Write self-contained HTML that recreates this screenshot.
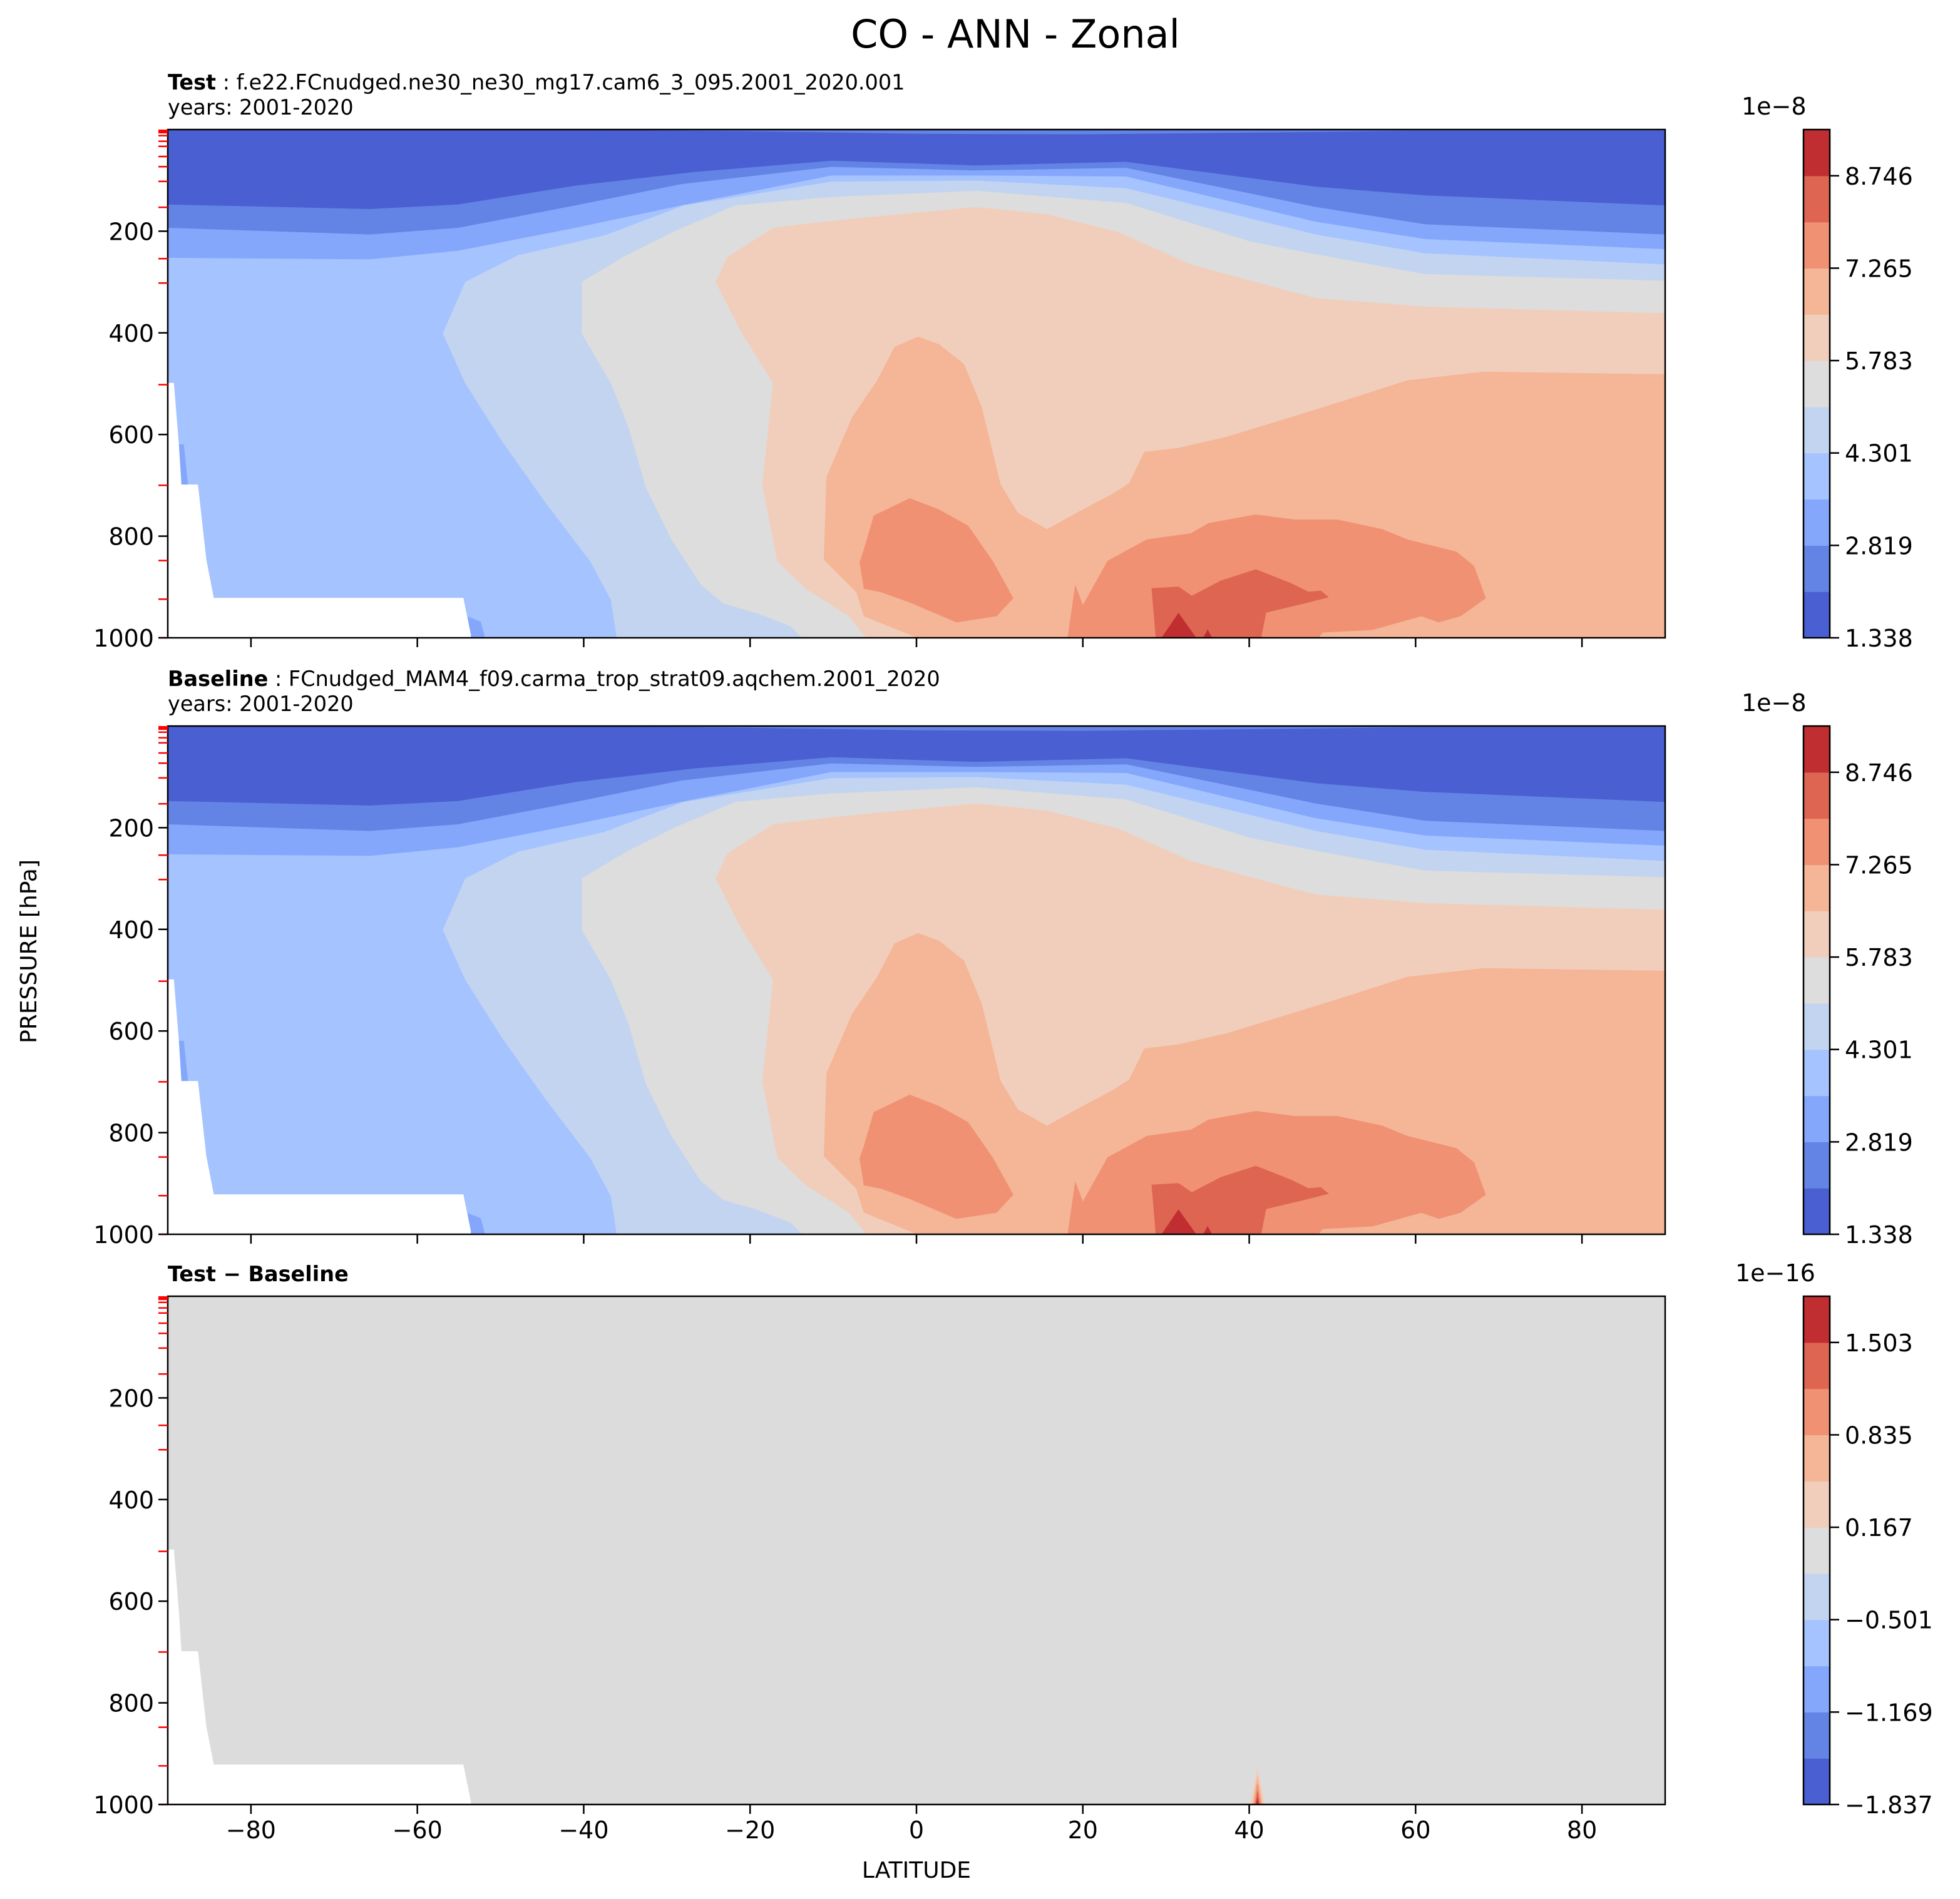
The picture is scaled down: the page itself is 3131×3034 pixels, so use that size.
<!DOCTYPE html>
<html><head><meta charset="utf-8"><style>
html,body{margin:0;padding:0;background:#fff}
svg{display:block}
text{font-family:"DejaVu Sans","Liberation Sans",sans-serif;fill:#000}
</style></head><body>
<svg id="fig" xmlns="http://www.w3.org/2000/svg" width="3131" height="3034" viewBox="0 0 3131 3034">
<rect x="0" y="0" width="3131" height="3034" fill="#fff"/>
<text x="1622" y="76" font-size="62" text-anchor="middle">CO - ANN - Zonal</text>
<text x="268" y="143" font-size="33.5"><tspan font-weight="bold">Test</tspan> : f.e22.FCnudged.ne30_ne30_mg17.cam6_3_095.2001_2020.001</text>
<text x="268" y="183" font-size="33.5">years: 2001-2020</text>
<text x="268" y="1096" font-size="33.5"><tspan font-weight="bold">Baseline</tspan> : FCnudged_MAM4_f09.carma_trop_strat09.aqchem.2001_2020</text>
<text x="268" y="1136" font-size="33.5">years: 2001-2020</text>
<text x="268" y="2047" font-size="33.5" font-weight="bold">Test − Baseline</text>
<text x="1464" y="3000" font-size="36" text-anchor="middle">LATITUDE</text>
<text x="0" y="0" font-size="36" text-anchor="middle" transform="translate(58,1520) rotate(-90)">PRESSURE [hPa]</text>
<g id="plots"></g>
</svg>
<script>
// ---- data ----
const palette = ['#4a5fd1','#6384e5','#84a7fc','#a5c3fe','#c3d4f1','#dcdddc','#f1cebc','#f5b597','#f09173','#de6551','#c12e32'];
const xTicks = [-80,-60,-40,-20,0,20,40,60,80];
const yTicks = [200,400,600,800,1000];
const levelTicks = [6,12,23,33,53,73,102,153,254,302,502,700,848,924,1000];
const cbTicksCO = ['1.338','2.819','4.301','5.783','7.265','8.746'];
const cbTicksDiff = ['−1.837','−1.169','−0.501','0.167','0.835','1.503'];
const topDark = [[-90,1],[-40,1],[-20,4],[0,9],[20,10],[45,6],[60,3],[90,3]];
const b2top = [[-90,148],[-65.7,157],[-55.1,148],[-41,111],[-26.7,84],[-10.2,62],[7.1,71],[25.2,64],[48,113],[61.1,130],[90,150]];
const b3top = [[-90,194],[-65.7,207],[-55.1,194],[-41,150],[-28.3,108],[-10.2,74],[7.1,81],[25.2,76],[48,153],[61.1,187],[90,207]];
const b4top = [[-90,253],[-65.7,256],[-55.1,239],[-41,194],[-28.3,150],[-10.2,91],[7.1,91],[25.2,93],[48,182],[61.1,216],[90,236]];
const b5edge = [[-36,1000],[-36.7,925],[-39.2,849],[-44.6,733],[-49.7,615],[-54.2,499],[-56.9,401],[-54.2,300],[-47.9,248],[-37.5,209],[-28,150],[-10.2,103],[7.1,101],[25.2,116],[48,207],[61.1,244],[90,266]];
const b6edge = [[-13.7,1000],[-15.1,977],[-19,952],[-23.2,932],[-25.9,895],[-29.4,807],[-32.5,704],[-34.6,585],[-36.7,499],[-40.2,401],[-40.2,300],[-34.9,248],[-28.9,199],[-21.8,150],[-10.2,133],[7.1,121],[25.2,145],[40.2,221],[48,246],[61.1,285],[90,298]];
const b7edge = [[-6,1000],[-8.1,957],[-13.3,903],[-16.7,849],[-18.5,699],[-17.2,499],[-21.1,396],[-24.1,300],[-22.7,251],[-17.2,194],[-10.2,180],[7.1,153],[15.7,167],[24.2,202],[33,266],[40.2,298],[48,332],[61.1,349],[90,362]];
const b8edge = [[0.2,1000],[-6.3,957],[-7.2,910],[-11.1,846],[-10.8,684],[-7.7,566],[-4.7,494],[-2.6,428],[0.2,408],[2.7,423],[5.7,462],[7.8,546],[10.1,699],[12.2,755],[15.7,787],[20,748],[23.5,718],[25.6,696],[27.4,635],[31.5,627],[37.3,605],[44.1,571],[51.4,534],[59,494],[68.2,477],[90,482]];
const b9blobA = [[-0.8,726],[-5.1,760],[-6.3,827],[-6.8,851],[-6.3,903],[-4.2,910],[-0.8,930],[4.8,969],[9.6,957],[11.6,922],[9.2,851],[6.2,780],[2.7,748]];
const b9blobB = [[18.2,1000],[19.1,898],[20,937],[23,849],[27.7,807],[33,795],[35.1,775],[40.8,758],[45.5,768],[50.6,768],[56,787],[59,807],[64.9,831],[67,859],[68.4,922],[65.4,957],[62.8,969],[60.7,957],[58.1,969],[54.8,984],[48.8,989],[48.3,1000]];
const b10blob = [[28.8,1000],[28.3,903],[31.5,900],[33.1,918],[36.6,888],[40.8,866],[45,893],[47.1,910],[48.6,908],[49.5,920],[47.1,930],[42,950],[41.4,1000]];
const b11blobA = [[29.5,1000],[31.5,952],[33.6,1000]];
const b11blobB = [[34.5,1000],[35,985],[35.5,1000]];
const maskPts = [[-90,499],[-89.3,499],[-88.7,620],[-88.4,699],[-86.4,699],[-85.4,846],[-84.5,922],[-54.5,922],[-53.6,994],[-53.6,1000],[-90,1000]];
const sliverA = [[-88.7,620],[-88.1,620],[-87.6,699],[-88.4,699]];
const sliverB = [[-53.9,959],[-52.4,969],[-51.9,1000],[-53.6,1000]];
const spikeLat = 41;
const spikeHalfWidths = [0.85,0.6,0.4,0.25,0.12];
const spikeTips = [930,945,960,975,988];

// ---- layout ----
const X0=268, X1=2660, PH=812;
const panelTops=[207,1160,2071];
const CBX=2881, CBW=42;
const NS='http://www.w3.org/2000/svg';
const root=document.getElementById('plots');
function X(lat){return X0+(lat+90)/180*(X1-X0);}
function mk(tag,attrs,parent){const e=document.createElementNS(NS,tag);for(const k in attrs)e.setAttribute(k,attrs[k]);(parent||root).appendChild(e);return e;}
function poly(pts,top,color,g,name,closeBottom){
  let arr=pts.map(q=>[X(q[0]),top+q[1]/1000*PH]);
  if(closeBottom==='full'){arr.push([X(90),top+PH]);arr.push([X(-90),top+PH]);}
  else if(closeBottom==='right'){arr.push([X(90),top+PH]);}
  const e=mk('polygon',{points:arr.map(a=>a[0].toFixed(1)+','+a[1].toFixed(1)).join(' '),fill:color,stroke:color,'stroke-width':1},g);
  
  
  return e;
}
function drawPanel(i,kind){
  const top=panelTops[i];
  const g=mk('g',{});
  
  
  const clip=mk('clipPath',{id:'clip'+i},g);
  mk('rect',{x:X0,y:top,width:X1-X0,height:PH},clip);
  const cg=mk('g',{'clip-path':'url(#clip'+i+')'},g);
  if(kind==='co'){
    const bg=mk('rect',{x:X0,y:top,width:X1-X0,height:PH,fill:palette[1]},cg);
    
    
    poly(topDark,top,palette[0],cg,'contour-level-1','full');
    poly(b2top,top,palette[1],cg,'contour-level-2','full');
    poly(b3top,top,palette[2],cg,'contour-level-3','full');
    poly(b4top,top,palette[3],cg,'contour-level-4','full');
    poly(b5edge,top,palette[4],cg,'contour-level-5','right');
    poly(b6edge,top,palette[5],cg,'contour-level-6','right');
    poly(b7edge,top,palette[6],cg,'contour-level-7','right');
    poly(b8edge,top,palette[7],cg,'contour-level-8','right');
    poly(b9blobA,top,palette[8],cg,'contour-level-9-tropics',null);
    poly(b9blobB,top,palette[8],cg,'contour-level-9-midlat',null);
    poly(b10blob,top,palette[9],cg,'contour-level-10',null);
    poly(b11blobA,top,palette[10],cg,'contour-level-11',null);
    poly(b11blobB,top,palette[10],cg,'contour-level-11b',null);
    poly(sliverA,top,palette[2],cg,'contour-sliver',null);
    poly(sliverB,top,palette[2],cg,'contour-sliver-b',null);
  } else {
    const bg=mk('rect',{x:X0,y:top,width:X1-X0,height:PH,fill:'#dcdcdc'},cg);
    
    
    const cols=[palette[6],palette[7],palette[8],palette[9],palette[10]];
    for(let k=0;k<spikeTips.length;k++){
      const pts=[[spikeLat-spikeHalfWidths[k],1000],[spikeLat,spikeTips[k]],[spikeLat+spikeHalfWidths[k],1000]];
      poly(pts,top,cols[k],cg,'difference-spike',null);
    }
  }
  poly(maskPts,top,'#ffffff',cg,'surface-mask',null);
  const fr=mk('rect',{x:X0,y:top,width:X1-X0,height:PH,fill:'none',stroke:'#000','stroke-width':2.5},g);
  
  
  levelTicks.forEach(p=>{const y=top+p/1000*PH;const t=mk('line',{x1:X0-15,x2:X0,y1:y,y2:y,stroke:'#ff0000','stroke-width':2.5},g);
    
    });
  mk('rect',{x:X0-15,y:top,width:15,height:6,fill:'#ff0000'},g);
  yTicks.forEach(p=>{const y=top+p/1000*PH;
    mk('line',{x1:X0-15,x2:X0,y1:y,y2:y,stroke:'#000','stroke-width':2.5},g);
    const t=mk('text',{x:X0-22,y:y+14,'font-size':38,'text-anchor':'end'},g);t.textContent=p;
    
    });
  xTicks.forEach(l=>{const x=X(l);mk('line',{x1:x,x2:x,y1:top+PH,y2:top+PH+15,stroke:'#000','stroke-width':2.5},g);
    if(i===2){const t=mk('text',{x:x,y:top+PH+54,'font-size':38,'text-anchor':'middle'},g);t.textContent=(l<0?'−':'')+Math.abs(l);
      
      }});
  const cb=mk('g',{},g);
  
  
  const bh=PH/11;
  for(let k=0;k<11;k++){mk('rect',{x:CBX,y:top+PH-(k+1)*bh,width:CBW,height:bh+0.6,fill:palette[k]},cb);}
  mk('rect',{x:CBX,y:top,width:CBW,height:PH,fill:'none',stroke:'#000','stroke-width':2.5},cb);
  const labs=kind==='co'?cbTicksCO:cbTicksDiff;
  labs.forEach((s,k)=>{const y=top+PH-2*k*bh;mk('line',{x1:CBX+CBW,x2:CBX+CBW+15,y1:y,y2:y,stroke:'#000','stroke-width':2.5},cb);
    const t=mk('text',{x:CBX+CBW+24,y:y+14,'font-size':38},cb);t.textContent=s;
    
    });
  const off=mk('text',{x:kind==='co'?2782:2772,y:top-24,'font-size':38},cb);off.textContent=kind==='co'?'1e−8':'1e−16';
  
  
}
drawPanel(0,'co');drawPanel(1,'co');drawPanel(2,'diff');
</script>
</body></html>
